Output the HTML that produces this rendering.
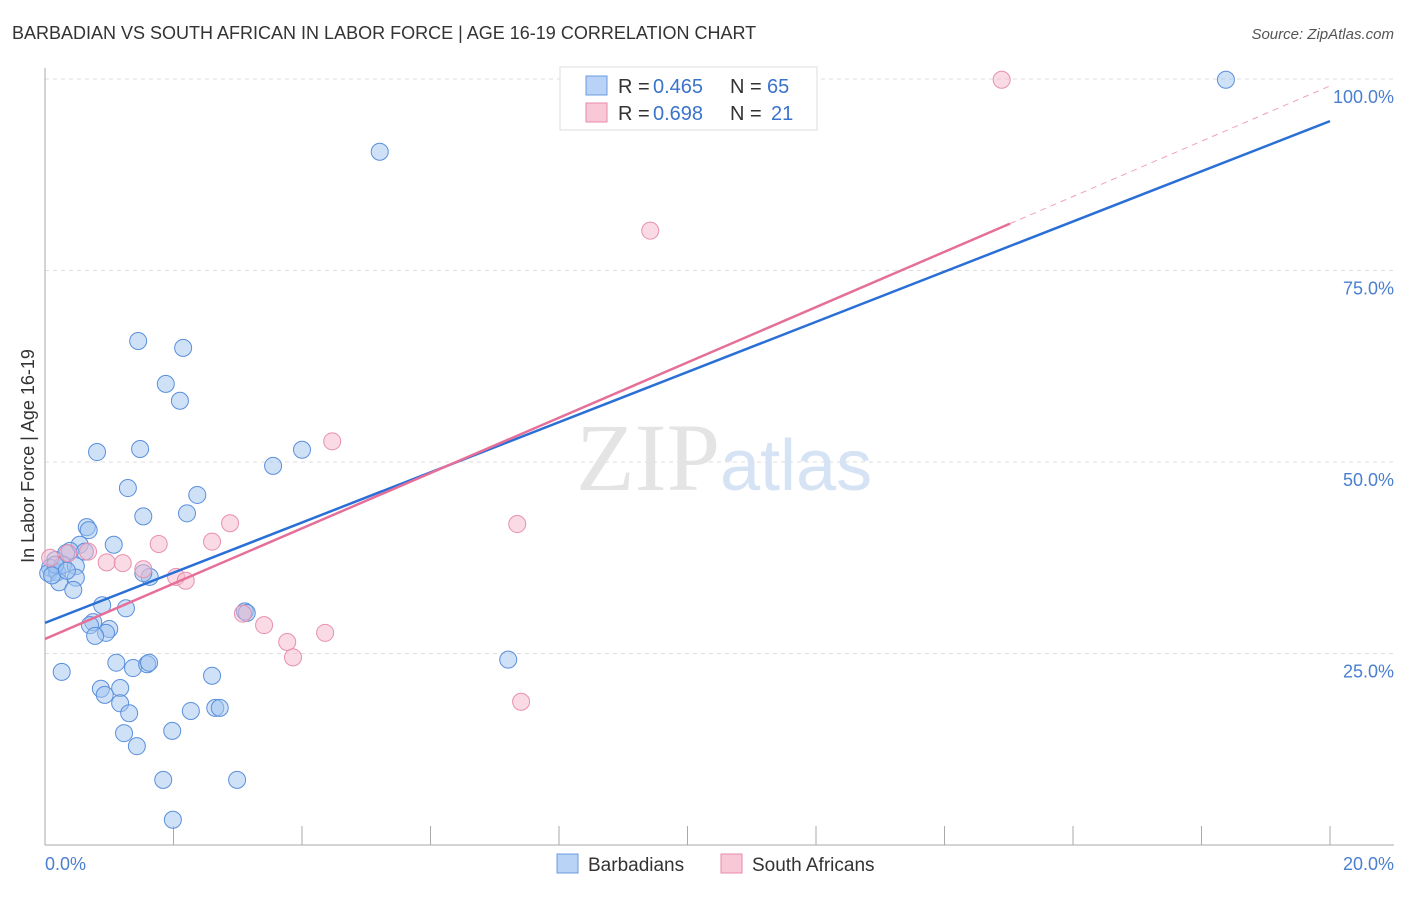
<!DOCTYPE html>
<html><head><meta charset="utf-8"><style>
body{margin:0;background:#fff;font-family:"Liberation Sans",sans-serif}
</style></head><body>
<svg width="1406" height="892" xmlns="http://www.w3.org/2000/svg">
<text x="12" y="39" font-size="18" fill="#333">BARBADIAN VS SOUTH AFRICAN IN LABOR FORCE | AGE 16-19 CORRELATION CHART</text>
<text x="1394" y="39" font-size="15" fill="#555" text-anchor="end" font-style="italic">Source: ZipAtlas.com</text>
<g id="grid"></g>
<text x="720" y="490" font-size="96" font-family="Liberation Serif,serif" fill="#e4e4e4" text-anchor="end">ZIP</text>
<text x="720" y="490" font-size="72" fill="#d5e3f5">atlas</text>
<g id="marks"></g>
<text transform="translate(34,456) rotate(-90)" font-size="18" fill="#333" text-anchor="middle">In Labor Force | Age 16-19</text>
<text x="45" y="870" font-size="18" fill="#4a7fd0">0.0%</text>
<text x="1394" y="870" font-size="18" fill="#4a7fd0" text-anchor="end">20.0%</text>
<g font-size="20">
<rect x="560" y="67" width="257" height="63" fill="#fff" stroke="#ddd"/>
<rect x="586" y="76" width="21" height="19" fill="#b8d3f5" stroke="#6a9be0"/>
<rect x="586" y="103" width="21" height="19" fill="#f8c8d6" stroke="#e88aa8"/>
<text x="618" y="93" fill="#333">R =</text><text x="653" y="93" fill="#3a73cc">0.465</text>
<text x="730" y="93" fill="#333">N =</text><text x="767" y="93" fill="#3a73cc">65</text>
<text x="618" y="120" fill="#333">R =</text><text x="653" y="120" fill="#3a73cc">0.698</text>
<text x="730" y="120" fill="#333">N =</text><text x="771" y="120" fill="#3a73cc">21</text>
</g>
<g>
<rect x="557" y="854" width="21" height="19" fill="#b8d3f5" stroke="#6a9be0"/>
<text x="588" y="871" font-size="19" fill="#333">Barbadians</text>
<rect x="721" y="854" width="21" height="19" fill="#f8c8d6" stroke="#e88aa8"/>
<text x="752" y="871" font-size="19" fill="#333">South Africans</text>
</g>
</svg>
<script>
const yTicks=[25,50,75,100];
const yTickLabels=["25.0%","50.0%","75.0%","100.0%"];
const barbX=[1.45,2.15,1.88,2.10,0.81,1.48,3.55,4.00,1.29,2.37,1.53,2.21,0.65,0.68,1.07,0.54,0.39,0.33,0.62,0.16,0.08,0.05,0.19,0.28,0.48,0.48,0.22,0.44,1.63,1.53,0.89,1.26,3.11,3.14,0.75,0.70,1.00,0.95,0.78,5.21,18.38,0.26,1.11,1.37,1.59,1.62,2.60,0.87,1.17,0.93,1.17,1.31,2.27,2.65,2.72,1.23,1.43,1.98,7.21,1.84,2.99,1.99,0.16,0.11,0.34];
const barbY=[65.8,64.9,60.2,58.0,51.3,51.7,49.5,51.6,46.6,45.7,42.9,43.3,41.5,41.1,39.2,39.2,38.4,38.1,38.3,37.2,36.2,35.5,35.6,36.6,36.4,34.9,34.3,33.3,35.0,35.5,31.3,30.9,30.5,30.3,29.1,28.7,28.2,27.7,27.3,90.5,99.9,22.6,23.8,23.1,23.6,23.8,22.1,20.4,20.5,19.6,18.5,17.2,17.5,17.9,17.9,14.6,12.9,14.9,24.2,8.5,8.5,3.3,36.6,35.2,35.8];
const saX=[14.89,9.42,4.47,7.35,2.88,1.77,2.60,0.96,1.21,0.67,0.36,0.08,1.53,2.04,2.19,3.08,3.41,3.77,3.86,4.36,7.41];
const saY=[99.9,80.2,52.7,41.9,42.0,39.3,39.6,36.9,36.8,38.3,38.1,37.5,36.0,35.0,34.5,30.2,28.7,26.5,24.5,27.7,18.7];
const barbTrend=[29.0,3.275];
const saTrend=[26.9,3.61];
const saSolidEnd=15.02;
const NS="http://www.w3.org/2000/svg";
const X=v=>45+v/20*1285, Y=v=>845-v/100*766;
function mk(t,a,p){const e=document.createElementNS(NS,t);for(const k in a)e.setAttribute(k,a[k]);p.appendChild(e);return e;}
const grid=document.getElementById('grid'),marks=document.getElementById('marks');
yTicks.forEach((t,i)=>{
 const l=mk('line',{x1:45,x2:1394,y1:Y(t),y2:Y(t),stroke:'#ddd','stroke-dasharray':'4,4'},grid);
 
 
 const tx=mk('text',{x:1394,y:Y(t)+24,'font-size':18,fill:'#4a7fd0','text-anchor':'end'},grid);
 tx.textContent=yTickLabels[i];
 
 
});
const ax=mk('line',{x1:45,x2:45,y1:68,y2:845,stroke:'#aaa'},grid);


const bx=mk('line',{x1:45,x2:1394,y1:845,y2:845,stroke:'#aaa'},grid);


for(let i=1;i<=10;i++){const t=mk('line',{x1:X(i*2),x2:X(i*2),y1:826,y2:845,stroke:'#aaa'},grid);
 
 }
barbX.forEach((x,i)=>{const c=mk('circle',{cx:X(x),cy:Y(barbY[i]),r:8.5,fill:'rgba(160,196,240,0.5)',stroke:'#5a8fdc','stroke-width':1},marks);
 
 });
saX.forEach((x,i)=>{const c=mk('circle',{cx:X(x),cy:Y(saY[i]),r:8.5,fill:'rgba(246,184,204,0.5)',stroke:'#e890ad','stroke-width':1},marks);
 
 });
const bl=mk('line',{x1:X(0),y1:Y(barbTrend[0]),x2:X(20),y2:Y(barbTrend[0]+barbTrend[1]*20),stroke:'#2a6fd6','stroke-width':2.5},marks);


const sl=mk('line',{x1:X(0),y1:Y(saTrend[0]),x2:X(saSolidEnd),y2:Y(saTrend[0]+saTrend[1]*saSolidEnd),stroke:'#e56f99','stroke-width':2.5},marks);


const sd=mk('line',{x1:X(saSolidEnd),y1:Y(saTrend[0]+saTrend[1]*saSolidEnd),x2:X(20),y2:Y(saTrend[0]+saTrend[1]*20),stroke:'#f0a0bb','stroke-width':1,'stroke-dasharray':'6,5'},marks);


</script>
</body></html>
